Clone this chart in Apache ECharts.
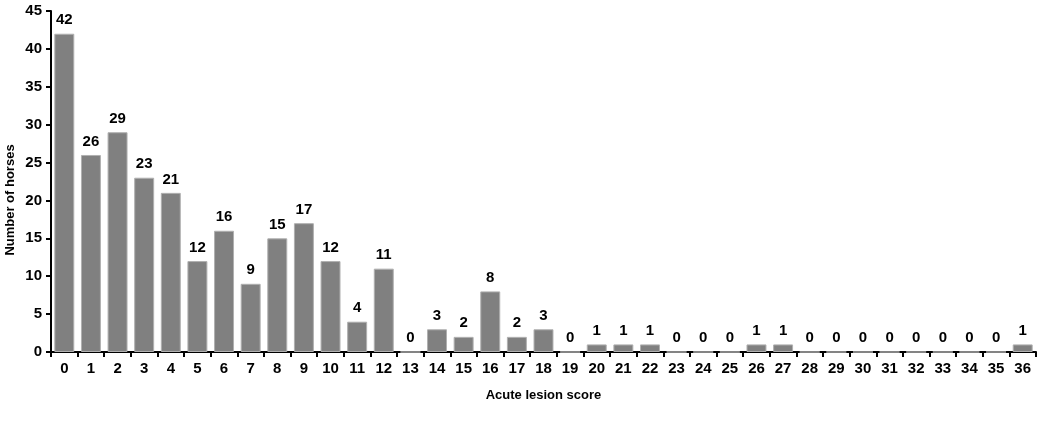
<!DOCTYPE html>
<html><head><meta charset="utf-8">
<script src="https://cdn.jsdelivr.net/npm/echarts@6/dist/echarts.min.js"></script>
<style>html,body{margin:0;padding:0;background:#fff}#c{width:1052px;height:421px}</style>
</head><body><div id="c"></div>
<script>
const categories = ['0','1','2','3','4','5','6','7','8','9','10','11','12','13','14','15','16','17','18','19','20','21','22','23','24','25','26','27','28','29','30','31','32','33','34','35','36'];
const horses = [42,26,29,23,21,12,16,9,15,17,12,4,11,0,3,2,8,2,3,0,1,1,1,0,0,0,1,1,0,0,0,0,0,0,0,0,1];
const yTicks = {min:0, max:45, interval:5};
const font = 'Liberation Sans, Arial, sans-serif';
const chart = echarts.init(document.getElementById('c'));
chart.setOption({
  animation:false,
  grid:{left:51,right:16,top:11,bottom:69,outerBoundsMode:'none',containLabel:false},
  graphic:[{type:'text',x:4,y:200,rotation:Math.PI/2,
    style:{text:'Number of horses',fill:'#000',font:'bold 13px '+font,align:'center',verticalAlign:'top'}}],
  xAxis:{type:'category',data:categories,
    name:'Acute lesion score',nameLocation:'middle',nameGap:37,
    nameTextStyle:{color:'#000',fontFamily:font,fontWeight:'bold',fontSize:13},
    axisLine:{lineStyle:{color:'#000',width:2}},
    axisTick:{show:true,alignWithLabel:false,length:5,lineStyle:{color:'#000',width:2}},
    axisLabel:{color:'#000',fontFamily:font,fontWeight:'bold',fontSize:15,margin:9,interval:0}},
  yAxis:{type:'value',min:yTicks.min,max:yTicks.max,interval:yTicks.interval,
    axisLine:{show:true,lineStyle:{color:'#000',width:2}},
    axisTick:{show:true,length:5,lineStyle:{color:'#000',width:2}},
    splitLine:{show:false},
    axisLabel:{color:'#000',fontFamily:font,fontWeight:'bold',fontSize:15,margin:9}},
  series:[{type:'bar',data:horses,barCategoryGap:'25%',
    itemStyle:{color:'#808080',borderColor:'#b0b0b0',borderWidth:1},
    label:{show:true,position:'top',distance:6,color:'#000',fontFamily:font,fontWeight:'bold',fontSize:15}}]
});
</script></body></html>
